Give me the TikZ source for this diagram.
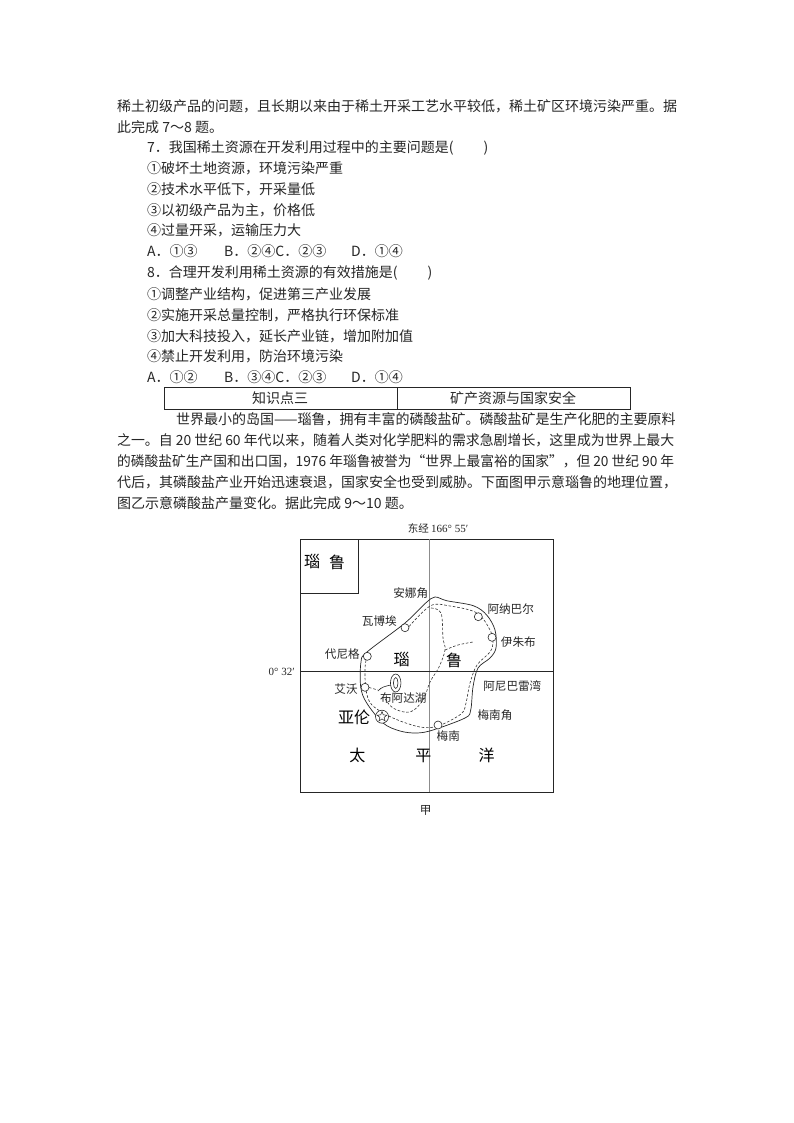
\documentclass[tikz,border=0pt]{standalone}
\usepackage{fontspec}
\setmainfont{Noto Sans CJK SC}
\newfontfamily\latinserif{Liberation Serif}
\XeTeXlinebreaklocale "zh"
\XeTeXlinebreakskip=0pt plus 2pt
\usetikzlibrary{shapes.geometric}
\tikzset{
  txt/.style={anchor=base west,inner sep=0pt,font=\fontsize{14}{16}\selectfont,text=black!85},
  lab/.style={inner sep=0pt,font=\fontsize{11.6}{13}\selectfont,text=black!85},
  big/.style={inner sep=0pt,font=\fontsize{16}{18}\selectfont,text=black},
  coast/.style={line width=0.7pt,black!85},
  road/.style={line width=0.6pt,dashed,dash pattern=on 2.6pt off 1.8pt,black!80},
  town/.style={draw=black!85,fill=white,line width=0.6pt,circle,minimum size=8pt,inner sep=0pt},
  frm/.style={line width=0.7pt,black!85}
}
\newcommand{\jl}[1]{\resizebox{557pt}{\height}{#1}}
\begin{document}
\begin{tikzpicture}[x=1pt,y=-1pt]
\useasboundingbox (0,0) rectangle (794,1123);
\fill[white] (0,0) rectangle (794,1123);
% text
\node[txt] (t1) at (117,112) {稀土初级产品的问题，且长期以来由于稀土开采工艺水平较低，稀土矿区环境污染严重。据};
\node[txt] (t2) at (117,133) {此完成 7～8 题。};
\node[txt] (t3) at (147,153) {7．我国稀土资源在开发利用过程中的主要问题是(\hspace{30pt})};
\node[txt] (t4) at (147,174) {①破坏土地资源，环境污染严重};
\node[txt] (t5) at (147,195) {②技术水平低下，开采量低};
\node[txt] (t6) at (147,215) {③以初级产品为主，价格低};
\node[txt] (t7) at (147,236) {④过量开采，运输压力大};
\node[txt] (t8a) at (147,256) {A．①③};
\node[txt] (t8b) at (224,256) {B．②④C．②③};
\node[txt] (t8d) at (351,256) {D．①④};
\node[txt] (t9) at (147,277) {8．合理开发利用稀土资源的有效措施是(\hspace{30pt})};
\node[txt] (t10) at (147,299) {①调整产业结构，促进第三产业发展};
\node[txt] (t11) at (147,320) {②实施开采总量控制，严格执行环保标准};
\node[txt] (t12) at (147,341) {③加大科技投入，延长产业链，增加附加值};
\node[txt] (t13) at (147,361) {④禁止开发利用，防治环境污染};
\node[txt] (t14a) at (147,382) {A．①②};
\node[txt] (t14b) at (224,382) {B．③④C．②③};
\node[txt] (t14d) at (351,382) {D．①④};
% table
\draw[frm] (164.5,387.5) rectangle (630,409);
\draw[frm] (397,387.5) -- (397,409);
\node[txt,anchor=base] (k1) at (280,403) {知识点三};
\node[txt,anchor=base] (k2) at (513,403) {矿产资源与国家安全};
% paragraph
\node[txt] (p1) at (176,424) {\makebox[498pt][s]{世界最小的岛国——瑙鲁，拥有丰富的磷酸盐矿。磷酸盐矿是生产化肥的主要原料}};
\node[txt] (p2) at (117,445) {\jl{之一。自 20 世纪 60 年代以来，随着人类对化学肥料的需求急剧增长，这里成为世界上最大}};
\node[txt] (p3) at (117,466) {\jl{的磷酸盐矿生产国和出口国，1976 年瑙鲁被誉为“世界上最富裕的国家”，但 20 世纪 90 年}};
\node[txt] (p4) at (117,487) {\makebox[564pt][s]{代后，其磷酸盐产业开始迅速衰退，国家安全也受到威胁。下面图甲示意瑙鲁的地理位置，}};
\node[txt] (p5) at (117,508) {图乙示意磷酸盐产量变化。据此完成 9～10 题。};
% map frame
\draw[frm] (300.7,539.2) rectangle (553.7,792.3);
\draw[frm] (300.7,593) -- (358.7,593) -- (358.7,539.2);
\draw[line width=0.9pt,black!45] (429,539.2) -- (429,792.3);
\draw[frm] (300.7,671.3) -- (553.7,671.3);
% island
\draw[coast] plot[smooth cycle,tension=0.55] coordinates {
 (425.7,603) (435,597) (446.7,600.7) (473.3,605.7) (486.7,615) (495,630) (496,648) (490,658)
 (478,668) (473,687) (470.7,710) (465,718) (433,730) (416.7,733) (400,731) (383,723)
 (366.7,703) (360.7,687) (361,662) (367,652) (405,623)};
\draw[road] plot[smooth,tension=0.55] coordinates {
 (367,656) (365,668) (366,690) (372,705) (393,718) (420,727) (438,726) (461,714) (466,703) (470,683)
 (477,665) (490,652) (493,642) (490,630) (477,613) (450,606) (430,606) (406,630)};
\draw[road] plot[smooth,tension=0.6] coordinates {
 (431,608) (441,613) (443,638) (445,650) (439,667) (430,682) (423,700) (410,712) (393,708) (384,697)};
\draw[road] plot[smooth,tension=0.6] coordinates {(445,650) (458,645) (473,642)};
\draw[road] (369,687.5) -- (378,690);
% lake
\draw[line width=0.6pt,black!85] (378,691) .. controls (381,687) and (386,686) .. (391,685);
\node[draw=black!85,line width=0.6pt,ellipse,minimum width=10.5pt,minimum height=18pt,inner sep=0pt,fill=white] (lake) at (395.7,683) {};
\node[draw=black!85,line width=0.6pt,ellipse,minimum width=4.5pt,minimum height=11pt,inner sep=0pt] (lakein) at (395.7,683) {};
% towns
\node[town] (wb) at (405,627.7) {};
\node[town] (an) at (478.3,616.7) {};
\node[town] (yz) at (492,637.3) {};
\node[town] (dn) at (367.3,656.3) {};
\node[town] (aw) at (365,687.3) {};
\node[town] (mn) at (438,725) {};
\node[town,minimum size=13pt] (yl) at (382,716.7) {};
\node[draw=black!85,line width=0.5pt,star,star points=5,star point ratio=2.4,minimum size=10.5pt,inner sep=0pt] (ylstar) at (382,716.7) {};
% labels
\node[lab,font=\fontsize{10.5}{12}\selectfont] (top) at (438,528) {东经 {\latinserif\fontsize{11}{12}\selectfont 166° 55′}};
\node[big] (i1) at (312,562) {瑙};
\node[big] (i2) at (337,562) {鲁};
\node[lab] (l1) at (410.7,592.7) {安娜角};
\node[lab] (l2) at (510.7,609) {阿纳巴尔};
\node[lab] (l3) at (379.3,621) {瓦博埃};
\node[lab] (l4) at (518.3,641.7) {伊朱布};
\node[lab] (l5) at (342.3,654.3) {代尼格};
\node[big] (n1) at (401.7,660) {瑙};
\node[big] (n2) at (454,660) {鲁};
\node[lab,font=\latinserif\fontsize{11}{12}\selectfont] (lat) at (281.7,671.7) {0° 32′};
\node[lab] (l6) at (346,689.3) {艾沃};
\node[lab] (l7) at (403.3,698.3) {布阿达湖};
\node[lab] (l8) at (512.3,685.7) {阿尼巴雷湾};
\node[big] (l9) at (354,717.3) {亚伦};
\node[lab] (l10) at (495,715) {梅南角};
\node[lab] (l11) at (448.3,736) {梅南};
\node[big] (o1) at (357.3,755.7) {太};
\node[big] (o2) at (423.3,755.7) {平};
\node[big] (o3) at (486.7,755.7) {洋};
\node[lab] (cap) at (425.7,810) {甲};
\end{tikzpicture}
\end{document}
